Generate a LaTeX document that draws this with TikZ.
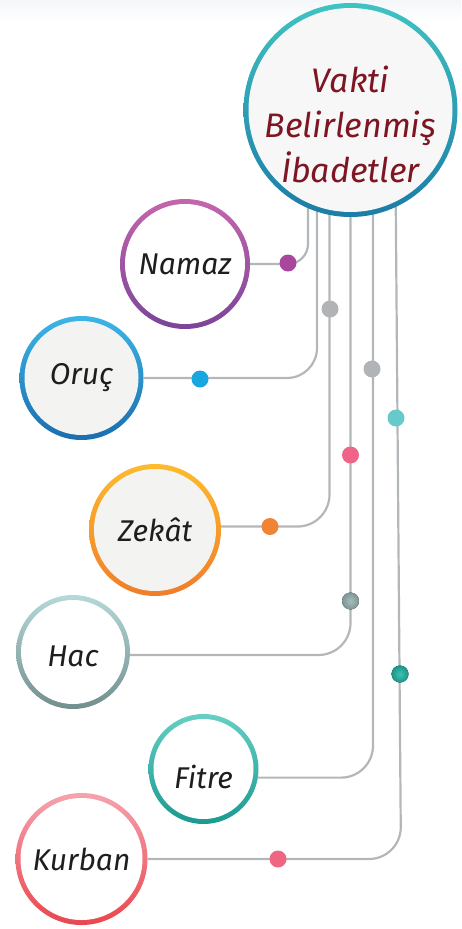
\documentclass[tikz,border=0pt]{standalone}
\usepackage{fontspec}
\setmainfont{Fira Sans}
\usetikzlibrary{backgrounds}

\definecolor{linkgray}{HTML}{B3B7BA}
\definecolor{topfade}{HTML}{F4F7F9}
\definecolor{vaktiA}{HTML}{3EC3C2}
\definecolor{vaktiB}{HTML}{1C7CA6}
\definecolor{vaktifill}{HTML}{F7F7F7}
\definecolor{vaktitext}{HTML}{7D1522}
\definecolor{softgray}{HTML}{F3F3F2}
\definecolor{ink}{HTML}{1E1E1E}
\definecolor{namazA}{HTML}{C466AD}
\definecolor{namazB}{HTML}{7B4499}
\definecolor{orucA}{HTML}{3DB5E6}
\definecolor{orucB}{HTML}{1A6EAF}
\definecolor{zekatA}{HTML}{FDBB2D}
\definecolor{zekatB}{HTML}{F07D2A}
\definecolor{hacA}{HTML}{B5D8D8}
\definecolor{hacB}{HTML}{728F8D}
\definecolor{fitreA}{HTML}{66CFC4}
\definecolor{fitreB}{HTML}{1A9A8F}
\definecolor{kurbanA}{HTML}{F5A3AE}
\definecolor{kurbanB}{HTML}{E9464F}
\definecolor{namazdot}{HTML}{A9479D}
\definecolor{gridot}{HTML}{B1B4B6}
\definecolor{orucdot}{HTML}{18A6E0}
\definecolor{cyandot}{HTML}{67C9CA}
\definecolor{pinkdot}{HTML}{EF6488}
\definecolor{zekatdot}{HTML}{F08434}
\definecolor{kurbandot}{HTML}{EE6682}
\definecolor{hacdotA}{HTML}{A9BCBC}
\definecolor{hacdotB}{HTML}{7D9696}
\definecolor{tealdotA}{HTML}{45C0B2}
\definecolor{tealdotB}{HTML}{15978A}

\begin{document}
\begin{tikzpicture}[x=1pt, y=-1pt,
		bubble/.style n args={4}{circle, inner sep=0pt, minimum size=2*#1, top color=#2, bottom color=#3,
			path picture={\fill[#4] (path picture bounding box.center) circle (#1-5pt);}},
		yazi/.style={font=\fontsize{30}{36}\selectfont\itshape, text=ink},
		link/.style={draw=linkgray, line width=2.2pt}]
		\useasboundingbox (0,0) rectangle (461,929);
		\node[bubble={107pt}{vaktiA}{vaktiB}{vaktifill}] (vakti) at (350.5,110) {};
		\node[font=\fontsize{34}{45}\selectfont\itshape, text=vaktitext, align=center] (vaktiyazi) at ([yshift=-14pt]vakti.center) {Vakti\\Belirlenmiş\\İbadetler};
		\node[bubble={65pt}{namazA}{namazB}{white}, yazi] (namaz) at (185,264) {Namaz};
		\node[bubble={62pt}{orucA}{orucB}{softgray}, yazi] (oruc) at (81.5,378) {Oruç};
		\node[bubble={66pt}{zekatA}{zekatB}{softgray}, yazi] (zekat) at (155,530) {Zekât};
		\node[bubble={57pt}{hacA}{hacB}{white}, yazi, text height=28pt, text depth=0pt] (hac) at (73,652) {Hac};
		\node[bubble={55pt}{fitreA}{fitreB}{white}, yazi, text height=38pt, text depth=0pt] (fitre) at (203.5,769) {Fitre};
		\node[bubble={66pt}{kurbanA}{kurbanB}{white}, yazi] (kurban) at (81.5,859) {Kurban};
		\coordinate (kurbanknee) at (401,859);
		\begin{scope}[on background layer]
			\fill[top color=topfade, bottom color=white] (0,0) rectangle (461,22);
			\draw[link, rounded corners=20pt] ([xshift=-42.5pt]vakti.center) |- (namaz.east);
			\draw[link, rounded corners=30pt] ([xshift=-33.5pt]vakti.center) |- (oruc.east);
			\draw[link, rounded corners=32pt] ([xshift=-21pt]vakti.center) |- (zekat.3);
			\draw[link, rounded corners=32pt] (vakti.center) |- (hac.-3);
			\draw[link, rounded corners=32pt] ([xshift=22.5pt]vakti.center) |- (fitre.-9);
			\draw[link, rounded corners=32pt] ([xshift=44.5pt]vakti.center) -- (kurbanknee) -- (kurban.east);
		\end{scope}
		% dots on the links
		\foreach \dx/\dy/\dc in {288/263/namazdot, 330/309/gridot, 200/379/orucdot, 372/369/gridot,
			396/418/cyandot, 350.5/455/pinkdot, 270/526.5/zekatdot, 278/859/kurbandot}
			\fill[\dc] (\dx,\dy) circle (8.5pt);
		\fill[inner color=hacdotA, outer color=hacdotB] (350.5,601) circle (8.5pt);
		\fill[inner color=tealdotA, outer color=tealdotB] (400,674) circle (8.5pt);
	\end{tikzpicture}
\end{document}
